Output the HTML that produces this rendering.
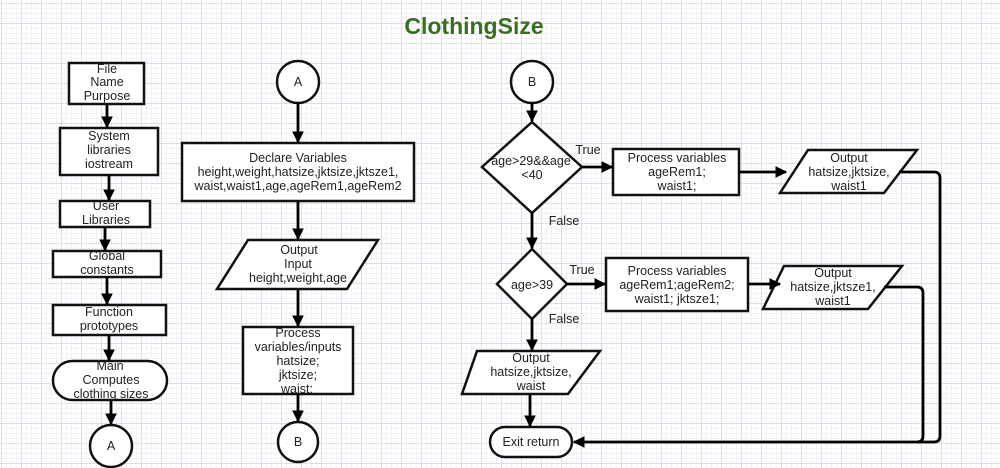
<!DOCTYPE html>
<html><head><meta charset="utf-8"><style>
html,body{margin:0;padding:0;}
body{width:1000px;height:468px;overflow:hidden;background:#fff;
background-image:linear-gradient(#dedee8 1px,transparent 1px),linear-gradient(90deg,#dedee8 1px,transparent 1px),linear-gradient(#f2f2f7 1px,transparent 1px),linear-gradient(90deg,#f2f2f7 1px,transparent 1px);
background-size:20px 20px,20px 20px,5px 5px,5px 5px;background-position:0 3px,1px 0,0 3px,1px 0;}
svg{position:absolute;left:0;top:0;}
text{font-family:"Liberation Sans",sans-serif;font-size:12.5px;fill:#222;text-anchor:middle;}
</style></head><body>
<svg width="1000" height="468" viewBox="0 0 1000 468">
<defs><marker id="a" viewBox="0 0 10 10" refX="9" refY="5" markerWidth="4.2" markerHeight="4.2" orient="auto" markerUnits="strokeWidth"><path d="M0,0L10,5L0,10z" fill="#000"/></marker></defs>
<text x="474" y="34" style="font-size:23px;font-weight:bold;fill:#3a6e1f">ClothingSize</text>
<g fill="#fff" stroke="#111" stroke-width="2.5">
<rect x="69" y="63" width="75" height="41"/>
<rect x="60" y="128" width="98" height="47"/>
<rect x="60" y="201" width="90" height="26"/>
<rect x="53" y="251" width="108" height="26"/>
<rect x="53" y="305" width="113" height="30"/>
<rect x="53" y="361" width="114" height="39" rx="19.5"/>
<circle cx="111" cy="446" r="21"/>
<circle cx="298" cy="82" r="21"/>
<rect x="182" y="143" width="232" height="58"/>
<path d="M248,240H378L347,289H217Z"/>
<rect x="243" y="327" width="110" height="67"/>
<circle cx="298" cy="442" r="20"/>
<circle cx="532" cy="82" r="21"/>
<path d="M532,122L582,167L532,213L482,167Z"/>
<rect x="613" y="149" width="126" height="46"/>
<path d="M808,150H917L884,193H780Z"/>
<path d="M532,249L567,284L532,319L497,284Z"/>
<rect x="606" y="258" width="142" height="53"/>
<path d="M784,266H902L868,309H763Z"/>
<path d="M477,351H600L568,394H462Z"/>
<rect x="490" y="427" width="82" height="30" rx="15"/>
</g>
<g stroke="#000" stroke-width="2.8" fill="none" marker-end="url(#a)">
<path d="M107,104V127"/><path d="M109,175V200"/><path d="M105,227V250"/><path d="M107,277V304"/><path d="M109,335V360"/><path d="M111,400V424"/>
<path d="M298,103V142"/><path d="M298,201V239"/><path d="M298,289V326"/><path d="M298,394V421"/>
<path d="M532,103V121"/><path d="M582,167H612"/><path d="M739,172H786"/><path d="M532,213V248"/><path d="M567,284H605"/><path d="M748,284H780"/><path d="M532,319V350"/><path d="M530,394V426"/>
<path d="M899,172H934Q940,172 940,178V436Q940,442 934,442H574"/>
</g>
<path d="M884,287H917Q923,287 923,293V436Q923,442 917,442" stroke="#000" stroke-width="2.8" fill="none"/>
<text x="107" y="73">File</text><text x="107" y="86">Name</text><text x="107" y="100">Purpose</text>
<text x="109" y="140">System</text><text x="109" y="154">libraries</text><text x="109" y="168">iostream</text>
<text x="106" y="210">User</text><text x="106" y="224">Libraries</text>
<text x="107" y="260">Global</text><text x="107" y="274">constants</text>
<text x="109" y="316">Function</text><text x="109" y="330">prototypes</text>
<text x="110" y="370">Main</text><text x="111" y="384">Computes</text><text x="111" y="398">clothing sizes</text>
<text x="111" y="450">A</text><text x="298" y="86">A</text><text x="298" y="446">B</text><text x="532" y="86">B</text>
<text x="298" y="162">Declare Variables</text><text x="298" y="176">height,weight,hatsize,jktsize,jktsze1,</text><text x="298" y="190">waist,waist1,age,ageRem1,ageRem2</text>
<text x="299" y="254">Output</text><text x="298" y="268">Input</text><text x="298" y="282">height,weight,age</text>
<text x="298" y="337">Process</text><text x="298" y="351">variables/inputs</text><text x="298" y="365">hatsize;</text><text x="298" y="379">jktsize;</text><text x="297" y="393">waist;</text>
<text x="531" y="165">age&gt;29&amp;&amp;age</text><text x="532" y="179">&lt;40</text>
<text x="588" y="154">True</text><text x="564" y="225">False</text>
<text x="677" y="162">Process variables</text><text x="677" y="176">ageRem1;</text><text x="677" y="190">waist1;</text>
<text x="849" y="162">Output</text><text x="849" y="176">hatsize,jktsize,</text><text x="849" y="190">waist1</text>
<text x="532" y="289">age&gt;39</text>
<text x="582" y="274">True</text><text x="564" y="323">False</text>
<text x="677" y="275">Process variables</text><text x="677" y="289">ageRem1;ageRem2;</text><text x="677" y="303">waist1; jktsze1;</text>
<text x="833" y="277">Output</text><text x="833" y="291">hatsize,jktsze1,</text><text x="833" y="305">waist1</text>
<text x="531" y="362">Output</text><text x="531" y="376">hatsize,jktsize,</text><text x="531" y="390">waist</text>
<text x="531" y="446">Exit return</text>
</svg>
</body></html>
